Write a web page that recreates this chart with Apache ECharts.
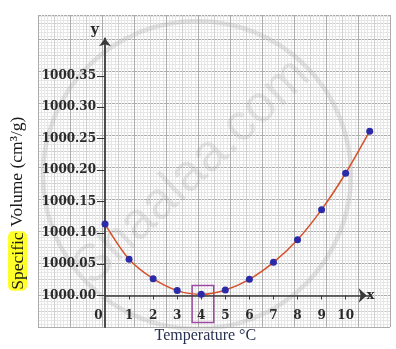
<!DOCTYPE html>
<html>
<head>
<meta charset="utf-8">
<script src="https://cdn.jsdelivr.net/npm/echarts@6/dist/echarts.min.js"></script>
<style>html,body{margin:0;padding:0;background:#fff;}#c{width:396px;height:349px;}</style>
</head>
<body>
<div id="c"></div>
<script>
const temperatures = [0, 1, 2, 3, 4, 5, 6, 7, 8, 9, 10, 11];
const specificVolumes = [1000.114, 1000.058, 1000.027, 1000.008, 1000.002, 1000.009, 1000.026, 1000.053, 1000.089, 1000.137, 1000.195, 1000.262];
const xTickValues = [0, 1, 2, 3, 4, 5, 6, 7, 8, 9, 10];
const yTickValues = [1000.00, 1000.05, 1000.10, 1000.15, 1000.20, 1000.25, 1000.30, 1000.35];
const xTitle = 'Temperature \u00B0C';
const yTitleHighlight = 'Specific';
const yTitleRest = ' Volume (cm\u00B3/g)';

const chart = echarts.init(document.getElementById('c'), null, {renderer: 'canvas'});
const labelFont = {fontFamily: 'DejaVu Serif', fontWeight: 'bold', fontSize: 12, color: '#2a2a2a'};

function paperAxes(grid, interval, color, z) {
  const common = {gridIndex: grid, type: 'value', interval: interval, z: z,
    axisLine: {show: false}, axisTick: {show: false}, axisLabel: {show: false},
    splitLine: {show: true, lineStyle: {color: color, width: 1}}};
  return {
    x: Object.assign({min: 0, max: 11}, common),
    y: Object.assign({min: 0, max: 9.75}, common)
  };
}
const pMinor = paperAxes(1, 0.1, '#e6e6e6', 0);
const pMid = paperAxes(2, 0.5, '#d0d0d0', 0);
const pMajor = paperAxes(3, 1, '#acacac', 0);

const paperGrid = {left: 38, right: 6, top: 15, bottom: 22};

const option = {
  animation: false,
  backgroundColor: '#ffffff',
  grid: [
    {left: 103.5, right: 26.3, top: 38.3, bottom: 20.5},
    Object.assign({}, paperGrid),
    Object.assign({}, paperGrid),
    Object.assign({}, paperGrid)
  ],
  xAxis: [
    {
      gridIndex: 0, type: 'value', min: 0, max: 11, position: 'bottom', offset: -31.5, z: 5,
      axisLine: {onZero: false, lineStyle: {color: '#3a3a3a', width: 1.5},
        symbol: ['none', 'arrow'], symbolSize: [11, 8], symbolOffset: [0, -3]},
      axisTick: {customValues: xTickValues.slice(1), length: 4, lineStyle: {color: '#3a3a3a', width: 1}},
      axisLabel: Object.assign({customValues: xTickValues, margin: 14,
        formatter: function (v) { return v === 0 ? '{z|0}' : String(v); },
        rich: {z: Object.assign({padding: [0, 13, 0, 0]}, labelFont)}}, labelFont),
      splitLine: {show: false},
      name: 'x', nameLocation: 'end', nameGap: -3,
      nameTextStyle: {fontFamily: 'DejaVu Serif', fontWeight: 'bold', fontSize: 13, color: '#2a2a2a', padding: [16, 0, 0, 0]}
    },
    {
      gridIndex: 0, type: 'value', min: 0, max: 11, position: 'bottom', z: 5,
      axisLine: {show: false}, axisTick: {show: false}, axisLabel: {show: false}, splitLine: {show: false},
      name: xTitle, nameLocation: 'middle', nameGap: 1,
      nameTextStyle: {fontFamily: 'Liberation Serif', fontSize: 16, color: '#283050', padding: [0, 64, 0, 0]}
    },
    pMinor.x, pMid.x, pMajor.x
  ],
  yAxis: [
    {
      gridIndex: 0, type: 'value', min: 999.95, max: 1000.41, interval: 0.05, z: 5,
      axisLine: {lineStyle: {color: '#3a3a3a', width: 1.8}, symbol: ['none', 'arrow'], symbolSize: [9, 8]},
      axisTick: {customValues: yTickValues, length: 8, lineStyle: {color: '#3a3a3a', width: 1}},
      axisLabel: Object.assign({customValues: yTickValues, margin: 9,
        formatter: function (v) { return v.toFixed(2); }}, labelFont),
      splitLine: {show: false},
      name: 'y', nameLocation: 'end', nameGap: 1,
      nameTextStyle: {fontFamily: 'DejaVu Serif', fontWeight: 'bold', fontSize: 14, color: '#2a2a2a', align: 'right', padding: [0, 6, 0, 0]}
    },
    {
      gridIndex: 0, type: 'value', min: 999.95, max: 1000.41, position: 'left', z: 5,
      axisLine: {show: false}, axisTick: {show: false}, axisLabel: {show: false}, splitLine: {show: false},
      name: '{hl|' + yTitleHighlight + '}' + yTitleRest, nameLocation: 'middle', nameGap: 78,
      nameTextStyle: {fontFamily: 'Liberation Serif', fontSize: 17.5, color: '#1a1a1a', padding: [0, 42, 0, 0],
        rich: {hl: {fontFamily: 'Liberation Serif', fontSize: 17.5, color: '#1a1a1a', backgroundColor: '#ffff2a', borderRadius: 5, padding: [1, 1, 0, 1]}}}
    },
    pMinor.y, pMid.y, pMajor.y
  ],
  graphic: {
    elements: [
      {type: 'circle', z: 3, silent: true, shape: {cx: 197, cy: 175, r: 154},
        style: {fill: 'none', stroke: 'rgba(170,170,170,0.32)', lineWidth: 4.5}},
      {type: 'text', z: 3, silent: true, x: 192, y: 172, rotation: 0.76,
        style: {text: 'Shaalaa.com', fontFamily: 'Liberation Sans', fontSize: 52, fill: 'rgba(150,150,150,0.22)', align: 'center', verticalAlign: 'middle'}}
    ]
  },
  series: [{
    type: 'line', xAxisIndex: 0, yAxisIndex: 0, z: 10, clip: false,
    data: temperatures.map(function (t, i) { return [t, specificVolumes[i]]; }),
    smooth: 0.3,
    symbol: 'circle', symbolSize: 7,
    itemStyle: {color: '#2b2ba8'},
    lineStyle: {color: '#d4522a', width: 1.5},
    markArea: {
      silent: true,
      itemStyle: {color: 'rgba(0,0,0,0)', borderColor: '#9b4aa0', borderWidth: 1.5},
      label: {show: false},
      data: [[{xAxis: 3.62, yAxis: 999.957}, {xAxis: 4.52, yAxis: 1000.016}]]
    }
  }]
};
chart.setOption(option);
</script>
</body>
</html>
